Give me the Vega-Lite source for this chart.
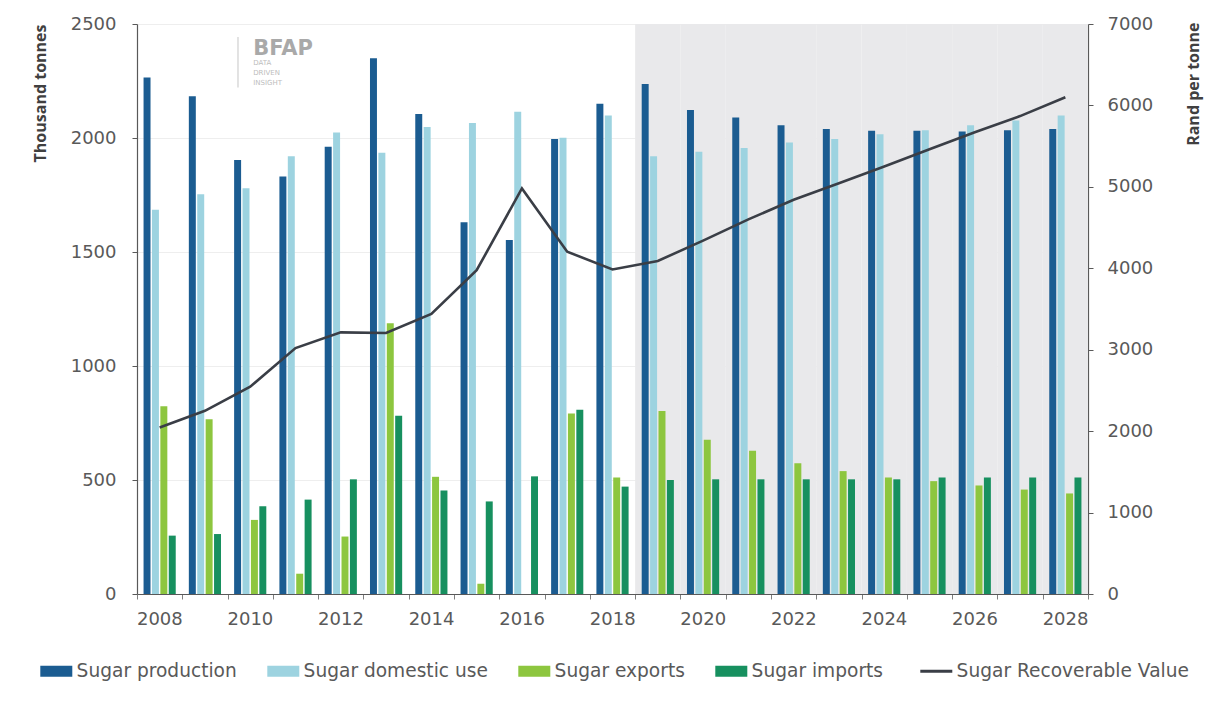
{
  "$schema": "https://vega.github.io/schema/vega-lite/v6.json",
  "width": 951,
  "height": 570,
  "autosize": "none",
  "padding": {"left": 137, "top": 24, "right": 138, "bottom": 110},
  "background": "white",
  "config": {"view": {"stroke": null}, "font": "DejaVu Sans"},
  "datasets": {
    "bars": [
      {"year": "2008", "series": "Sugar production", "value": 2265},
      {"year": "2008", "series": "Sugar domestic use", "value": 1685},
      {"year": "2008", "series": "Sugar exports", "value": 823},
      {"year": "2008", "series": "Sugar imports", "value": 256},
      {"year": "2009", "series": "Sugar production", "value": 2183},
      {"year": "2009", "series": "Sugar domestic use", "value": 1753},
      {"year": "2009", "series": "Sugar exports", "value": 766},
      {"year": "2009", "series": "Sugar imports", "value": 263},
      {"year": "2010", "series": "Sugar production", "value": 1904},
      {"year": "2010", "series": "Sugar domestic use", "value": 1780},
      {"year": "2010", "series": "Sugar exports", "value": 325},
      {"year": "2010", "series": "Sugar imports", "value": 385},
      {"year": "2011", "series": "Sugar production", "value": 1831},
      {"year": "2011", "series": "Sugar domestic use", "value": 1920},
      {"year": "2011", "series": "Sugar exports", "value": 89},
      {"year": "2011", "series": "Sugar imports", "value": 414},
      {"year": "2012", "series": "Sugar production", "value": 1962},
      {"year": "2012", "series": "Sugar domestic use", "value": 2024},
      {"year": "2012", "series": "Sugar exports", "value": 252},
      {"year": "2012", "series": "Sugar imports", "value": 503},
      {"year": "2013", "series": "Sugar production", "value": 2350},
      {"year": "2013", "series": "Sugar domestic use", "value": 1935},
      {"year": "2013", "series": "Sugar exports", "value": 1188},
      {"year": "2013", "series": "Sugar imports", "value": 782},
      {"year": "2014", "series": "Sugar production", "value": 2105},
      {"year": "2014", "series": "Sugar domestic use", "value": 2048},
      {"year": "2014", "series": "Sugar exports", "value": 514},
      {"year": "2014", "series": "Sugar imports", "value": 454},
      {"year": "2015", "series": "Sugar production", "value": 1631},
      {"year": "2015", "series": "Sugar domestic use", "value": 2066},
      {"year": "2015", "series": "Sugar exports", "value": 45},
      {"year": "2015", "series": "Sugar imports", "value": 406},
      {"year": "2016", "series": "Sugar production", "value": 1553},
      {"year": "2016", "series": "Sugar domestic use", "value": 2115},
      {"year": "2016", "series": "Sugar exports", "value": 0},
      {"year": "2016", "series": "Sugar imports", "value": 516},
      {"year": "2017", "series": "Sugar production", "value": 1996},
      {"year": "2017", "series": "Sugar domestic use", "value": 2001},
      {"year": "2017", "series": "Sugar exports", "value": 792},
      {"year": "2017", "series": "Sugar imports", "value": 808},
      {"year": "2018", "series": "Sugar production", "value": 2150},
      {"year": "2018", "series": "Sugar domestic use", "value": 2099},
      {"year": "2018", "series": "Sugar exports", "value": 511},
      {"year": "2018", "series": "Sugar imports", "value": 471},
      {"year": "2019", "series": "Sugar production", "value": 2237},
      {"year": "2019", "series": "Sugar domestic use", "value": 1920},
      {"year": "2019", "series": "Sugar exports", "value": 803},
      {"year": "2019", "series": "Sugar imports", "value": 500},
      {"year": "2020", "series": "Sugar production", "value": 2123},
      {"year": "2020", "series": "Sugar domestic use", "value": 1940},
      {"year": "2020", "series": "Sugar exports", "value": 677},
      {"year": "2020", "series": "Sugar imports", "value": 503},
      {"year": "2021", "series": "Sugar production", "value": 2090},
      {"year": "2021", "series": "Sugar domestic use", "value": 1956},
      {"year": "2021", "series": "Sugar exports", "value": 628},
      {"year": "2021", "series": "Sugar imports", "value": 503},
      {"year": "2022", "series": "Sugar production", "value": 2056},
      {"year": "2022", "series": "Sugar domestic use", "value": 1980},
      {"year": "2022", "series": "Sugar exports", "value": 573},
      {"year": "2022", "series": "Sugar imports", "value": 503},
      {"year": "2023", "series": "Sugar production", "value": 2040},
      {"year": "2023", "series": "Sugar domestic use", "value": 1996},
      {"year": "2023", "series": "Sugar exports", "value": 539},
      {"year": "2023", "series": "Sugar imports", "value": 503},
      {"year": "2024", "series": "Sugar production", "value": 2032},
      {"year": "2024", "series": "Sugar domestic use", "value": 2016},
      {"year": "2024", "series": "Sugar exports", "value": 511},
      {"year": "2024", "series": "Sugar imports", "value": 503},
      {"year": "2025", "series": "Sugar production", "value": 2032},
      {"year": "2025", "series": "Sugar domestic use", "value": 2034},
      {"year": "2025", "series": "Sugar exports", "value": 495},
      {"year": "2025", "series": "Sugar imports", "value": 511},
      {"year": "2026", "series": "Sugar production", "value": 2029},
      {"year": "2026", "series": "Sugar domestic use", "value": 2056},
      {"year": "2026", "series": "Sugar exports", "value": 476},
      {"year": "2026", "series": "Sugar imports", "value": 511},
      {"year": "2027", "series": "Sugar production", "value": 2034},
      {"year": "2027", "series": "Sugar domestic use", "value": 2077},
      {"year": "2027", "series": "Sugar exports", "value": 458},
      {"year": "2027", "series": "Sugar imports", "value": 511},
      {"year": "2028", "series": "Sugar production", "value": 2040},
      {"year": "2028", "series": "Sugar domestic use", "value": 2099},
      {"year": "2028", "series": "Sugar exports", "value": 441},
      {"year": "2028", "series": "Sugar imports", "value": 511}
    ],
    "srv": [
      {"year": "2008", "rand": 2045},
      {"year": "2009", "rand": 2250},
      {"year": "2010", "rand": 2545},
      {"year": "2011", "rand": 3020},
      {"year": "2012", "rand": 3213},
      {"year": "2013", "rand": 3205},
      {"year": "2014", "rand": 3440},
      {"year": "2015", "rand": 3976},
      {"year": "2016", "rand": 4980},
      {"year": "2017", "rand": 4204},
      {"year": "2018", "rand": 3985},
      {"year": "2019", "rand": 4090},
      {"year": "2020", "rand": 4340},
      {"year": "2021", "rand": 4600},
      {"year": "2022", "rand": 4842},
      {"year": "2023", "rand": 5045},
      {"year": "2024", "rand": 5249},
      {"year": "2025", "rand": 5462},
      {"year": "2026", "rand": 5670},
      {"year": "2027", "rand": 5869},
      {"year": "2028", "rand": 6100}
    ]
  },
  "layer": [
    {
      "layer": [
        {
          "data": {"name": "bars"},
          "transform": [{"filter": "datum.series === 'Sugar production' && toNumber(datum.year) >= 2019"}],
          "mark": {"type": "rect", "color": "#e9e9eb"},
          "encoding": {
            "x": {"field": "year", "type": "ordinal"}
          }
        },
        {
          "data": {"name": "bars"},
          "mark": {"type": "bar"},
          "encoding": {
            "x": {
              "field": "year", "type": "ordinal",
              "scale": {"paddingInner": 0, "paddingOuter": 0},
              "axis": {
                "title": null, "labelAngle": 0, "tickBand": "extent",
                "labelExpr": "toNumber(datum.value) % 2 === 0 ? datum.value : ''",
                "labelFont": "DejaVu Sans", "labelFontSize": 18, "labelColor": "#595959",
                "labelPadding": 20, "labelOffset": 22.6, "tickSize": 5, "tickColor": "#7f7f7f",
                "domainColor": "#595959", "domainWidth": 1.2
              }
            },
            "xOffset": {
              "field": "series", "type": "nominal",
              "scale": {"domain": ["Sugar production", "Sugar domestic use", "Sugar exports", "Sugar imports"], "paddingInner": 0.17, "paddingOuter": 0.78}
            },
            "y": {
              "field": "value", "type": "quantitative",
              "scale": {"domain": [0, 2500], "nice": false},
              "axis": {
                "title": "Thousand tonnes", "values": [0, 500, 1000, 1500, 2000, 2500], "format": "d",
                "titleFont": "Open Sans", "titleFontWeight": "bold", "titleFontSize": 16, "titleColor": "#404040",
                "titleAnchor": "end", "titlePadding": 22,
                "labelFont": "DejaVu Sans", "labelFontSize": 18, "labelColor": "#595959", "labelPadding": 16,
                "tickSize": 5, "tickColor": "#595959", "domainColor": "#595959", "domainWidth": 1.2,
                "grid": true, "gridColor": "#eeeeee"
              }
            },
            "color": {
              "field": "series", "type": "nominal",
              "scale": {
                "domain": ["Sugar production", "Sugar domestic use", "Sugar exports", "Sugar imports", "Sugar Recoverable Value"],
                "range": ["#1b5c91", "#9dd3e0", "#8dc63f", "#17905f", "#3a3e46"]
              },
              "legend": {
                "orient": "none", "legendX": -90, "legendY": 638, "direction": "horizontal",
                "columns": 5, "columnPadding": 30, "title": null, "padding": 0,
                "symbolSize": 1024, "symbolType": "M-1,-0.344H1V0.344H-1Z",
                "labelFont": "DejaVu Sans", "labelFontSize": 18.6, "labelColor": "#595959",
                "labelOffset": 11, "labelLimit": 400,
                "encode": {
                  "symbols": {
                    "update": {
                      "shape": {"signal": "datum.value === 'Sugar Recoverable Value' ? 'M-1,0H1' : 'M-1,-0.344H1V0.344H-1Z'"},
                      "fill": {"scale": "color", "field": "value"},
                      "stroke": {"scale": "color", "field": "value"},
                      "strokeWidth": {"signal": "datum.value === 'Sugar Recoverable Value' ? 3 : 0"},
                      "opacity": {"value": 1},
                      "fillOpacity": {"value": 1}
                    }
                  }
                }
              }
            }
          }
        },
        {
          "data": {"name": "bars"},
          "transform": [{"filter": "datum.year === '2008' && datum.series === 'Sugar production'"}],
          "mark": {"type": "text", "text": "BFAP", "font": "DejaVu Sans", "fontWeight": "bold", "fontSize": 21, "color": "#a9a9a9", "align": "left", "baseline": "alphabetic", "dx": 3},
          "encoding": {
            "x": {"datum": "2010", "type": "ordinal"},
            "y": {"datum": 2364, "type": "quantitative"}
          }
        },
        {
          "data": {"name": "bars"},
          "transform": [{"filter": "datum.year === '2008' && datum.series === 'Sugar production'"}],
          "mark": {"type": "text", "text": ["DATA", "DRIVEN", "INSIGHT"], "lineHeight": 10, "font": "DejaVu Sans", "fontSize": 7, "color": "#bdbdbd", "align": "left", "baseline": "alphabetic", "dx": 3},
          "encoding": {
            "x": {"datum": "2010", "type": "ordinal"},
            "y": {"datum": 2320, "type": "quantitative"}
          }
        },
        {
          "data": {"name": "bars"},
          "transform": [{"filter": "datum.year === '2008' && datum.series === 'Sugar production'"}],
          "mark": {"type": "rule", "color": "#d9d9d9", "strokeWidth": 1.5},
          "encoding": {
            "x": {"datum": "2010", "type": "ordinal", "bandPosition": 0.23},
            "y": {"datum": 2443, "type": "quantitative"},
            "y2": {"datum": 2222}
          }
        }
      ]
    },
    {
      "data": {"name": "srv"},
      "mark": {"type": "line", "strokeWidth": 2.6, "interpolate": "linear"},
      "encoding": {
        "x": {"field": "year", "type": "ordinal"},
        "y": {
          "field": "rand", "type": "quantitative",
          "scale": {"domain": [0, 7000], "nice": false},
          "axis": {
            "orient": "right", "title": "Rand per tonne", "values": [0, 1000, 2000, 3000, 4000, 5000, 6000, 7000], "format": "d",
            "titleFont": "Open Sans", "titleFontWeight": "bold", "titleFontSize": 16, "titleColor": "#404040",
            "titleAngle": 270, "titleAlign": "right", "titleBaseline": "middle", "titleX": 105, "titleY": -2,
            "labelFont": "DejaVu Sans", "labelFontSize": 18, "labelColor": "#595959", "labelPadding": 14,
            "tickSize": 5, "tickColor": "#595959", "domainColor": "#595959", "domainWidth": 1.2,
            "grid": false
          }
        },
        "color": {"datum": "Sugar Recoverable Value", "type": "nominal"}
      }
    }
  ],
  "resolve": {"scale": {"y": "independent"}}
}
